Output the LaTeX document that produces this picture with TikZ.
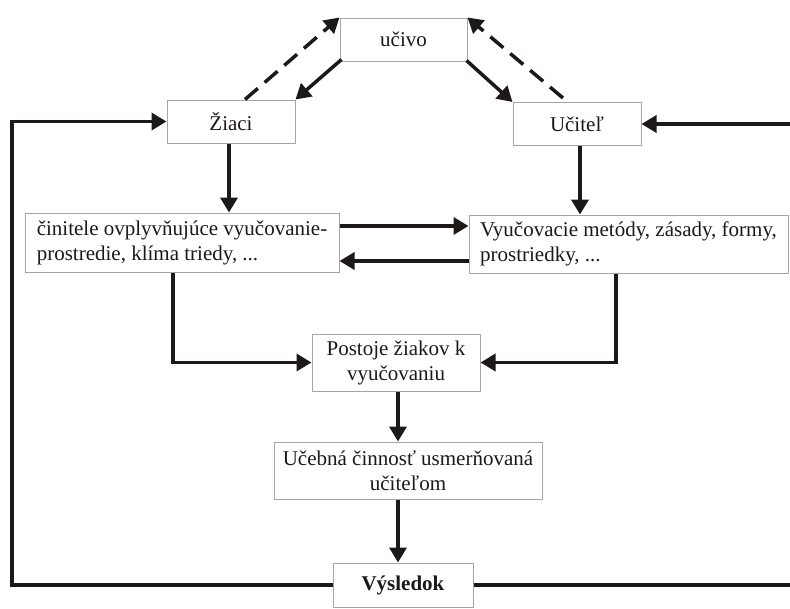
\documentclass[tikz,border=0pt]{standalone}
\usepackage{fontspec}
\setmainfont{Liberation Serif}
\usetikzlibrary{arrows.meta}
\definecolor{boxgray}{RGB}{165,165,165}
\definecolor{ink}{RGB}{30,25,25}
\tikzset{
  box/.style={draw=boxgray, line width=1pt, fill=white, inner sep=0pt,
    font=\fontsize{21}{25}\selectfont, text=ink},
  arr/.style={draw=ink, line width=3.5pt, -{Triangle[length=15pt,width=17pt]}},
  darr/.style={arr, dash pattern=on 17pt off 9pt},
}
\begin{document}
\begin{tikzpicture}[x=1pt,y=-1pt]
\useasboundingbox (0,0) rectangle (790,608);
\node[box, minimum width=127pt, minimum height=43pt] (uc) at (403.5,39.5) {učivo};
\node[box, minimum width=128pt, minimum height=43pt] (zi) at (231,121.5) {Žiaci};
\node[box, minimum width=128pt, minimum height=43pt] (ut) at (577,124) {Učiteľ};
\node[box, minimum width=314pt, minimum height=59pt, align=left] (ci) at (182,242.5) {činitele ovplyvňujúce vyučovanie-\\prostredie, klíma triedy, ...};
\node[box, minimum width=319pt, minimum height=58pt, align=left] (vy) at (628.5,244) {Vyučovacie metódy, zásady, formy,\\prostriedky, ...};
\node[box, minimum width=168pt, minimum height=57pt, align=center] (po) at (396,362.5) {Postoje žiakov k\\vyučovaniu};
\node[box, minimum width=268pt, minimum height=57pt, align=center] (ue) at (408,470.5) {Učebná činnosť usmerňovaná\\učiteľom};
\node[box, minimum width=140pt, minimum height=44pt, font=\fontsize{21}{25}\selectfont\bfseries] (vs) at (403,585) {Výsledok};

\coordinate (leftx) at (12,0);
\coordinate (rightx) at (792,0);

% top triangle
\draw[darr] (zi.north -| 245,0) -- (uc.north west);
\draw[arr] ([xshift=2pt,yshift=2pt]uc.south west) -- (zi.north east);
\draw[arr] ([xshift=-1pt,yshift=1pt]uc.south east) -- (ut.north west);
\draw[darr] ([yshift=4pt]ut.north -| 563,0) -- (uc.north east);

% down from Ziaci and Ucitel
\draw[arr] (zi.south -| 229,0) -- (ci.north -| 229,0);
\draw[arr] (ut.south -| 580,0) -- (vy.north -| 580,0);

% between middle boxes
\draw[arr] (ci.east |- 0,226) -- (vy.west |- 0,226);
\draw[arr] (vy.west |- 0,261) -- (ci.east |- 0,261);

% to Postoje
\draw[arr] (ci.south -| 173,0) |- (po.west);
\draw[arr] (vy.south -| 616,0) |- (po.east);

% down chain
\draw[arr] (po.south -| 398,0) -- (ue.north -| 398,0);
\draw[arr] (ue.south -| 398,0) -- (vs.north -| 398,0);

% feedback loops
\draw[arr] (vs.west) -- (vs.west -| leftx) |- (zi.west);
\draw[arr] (vs.east) -- (vs.east -| rightx) |- (ut.east);
\end{tikzpicture}
\end{document}
